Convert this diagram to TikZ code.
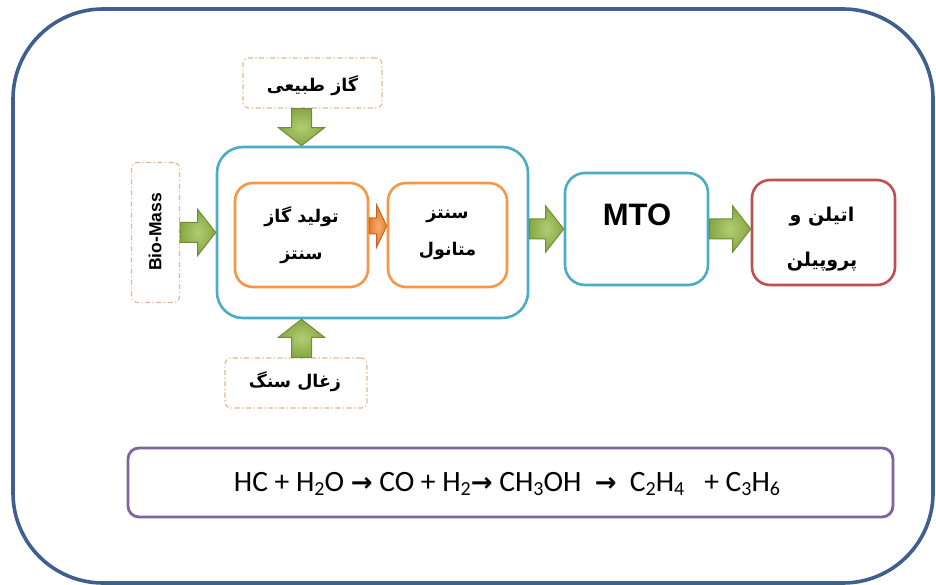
\documentclass[tikz,border=0pt]{standalone}
\usepackage{fontspec}
\usetikzlibrary{calc}
\TeXXeTstate=1
\newfontfamily\fafont[Script=Arabic]{DejaVu Sans}
\newfontfamily\sansb{Liberation Sans}
\newfontfamily\eqfont{Carlito}
\newfontfamily\symfont{DejaVu Sans}
\definecolor{framecol}{HTML}{3F5F91}
\definecolor{cyanc}{HTML}{4BACC6}
\definecolor{orangec}{HTML}{F79646}
\definecolor{redc}{HTML}{C0504D}
\definecolor{purplec}{HTML}{8064A2}
\definecolor{dashcol}{HTML}{E3B48F}
\definecolor{gin}{HTML}{B2CD72}
\definecolor{gout}{HTML}{86A744}
\definecolor{gline}{HTML}{6F8F33}
\definecolor{oin}{HTML}{F4AC70}
\definecolor{oout}{HTML}{E47E2E}
\definecolor{oline}{HTML}{C8661E}
% subscripts and reaction arrows of the equation line
\newcommand{\sbs}[1]{\raisebox{-0.3ex}{\fontsize{20}{20}\selectfont #1}}
\newcommand{\rarr}{{\symfont\bfseries\fontsize{26}{27}\selectfont →}}
\newcommand{\fa}[1]{\beginR #1\endR}
\tikzset{
  blockarrow/.style n args={3}{to path={
    ($(\tikztostart)!#1!90:(\tikztotarget)$)
    -- ($(\tikztotarget)!#3!(\tikztostart)!#1!-90:(\tikztostart)$)
    -- ($(\tikztotarget)!#3!(\tikztostart)!#2!-90:(\tikztostart)$)
    -- (\tikztotarget)
    -- ($(\tikztotarget)!#3!(\tikztostart)!#2!90:(\tikztostart)$)
    -- ($(\tikztotarget)!#3!(\tikztostart)!#1!90:(\tikztostart)$)
    -- ($(\tikztostart)!#1!-90:(\tikztotarget)$)
    -- cycle}},
  garrow/.style={draw=gline, line width=1pt, inner color=gin, outer color=gout,
    blockarrow={10pt}{23pt}{18pt}},
  oarrow/.style={draw=oline, line width=1pt, inner color=oin, outer color=oout,
    blockarrow={8pt}{21pt}{10pt}},
  frame/.style={draw=framecol, line width=3.6pt, rounded corners=90pt, inner sep=0pt},
  bluebox/.style={draw=cyanc, line width=2.6pt, rounded corners=26pt, inner sep=0pt},
  mtobox/.style={draw=cyanc, line width=2.6pt, rounded corners=20pt, inner sep=0pt},
  orbox/.style={draw=orangec, line width=2.6pt, rounded corners=18pt, inner sep=0pt,
    font=\fafont\bfseries\fontsize{17.5}{37}\selectfont, align=center},
  redbox/.style={draw=redc, line width=2.6pt, rounded corners=18pt, inner sep=0pt},
  eqbox/.style={draw=purplec, line width=2.8pt, rounded corners=11pt, inner sep=0pt},
  dashbox/.style={draw=dashcol, line width=1.1pt, rounded corners=6pt, inner sep=0pt,
    dash pattern=on 5pt off 2.5pt on 1.2pt off 2.5pt},
  falabel/.style={font=\fafont\bfseries\fontsize{17.5}{20}\selectfont, inner sep=0pt},
}
\begin{document}
\begin{tikzpicture}[x=1pt,y=-1pt]
\useasboundingbox (0,0) rectangle (936,585);
% rounded outer frame
\node[frame, minimum width=920pt, minimum height=574pt] (outer) at (473,296) {};

% feed boxes
\node[dashbox, minimum width=139pt, minimum height=50pt] (gas) at (312.5,83) {};
\node[falabel] (gastxt) at (312.5,86) {\fa{گاز طبیعی}};
\node[dashbox, minimum width=142pt, minimum height=50pt] (coal) at (296,383) {};
\node[falabel] (coaltxt) at (295,382) {\fa{زغال سنگ}};
\node[dashbox, minimum width=48pt, minimum height=140pt] (bio) at (155.5,232.5) {};
\node[rotate=90, font=\sansb\bfseries\fontsize{17.5}{20}\selectfont, inner sep=0pt]
  (biotxt) at (155,232) {Bio-Mass};

% methanol unit with its two steps
\node[bluebox, minimum width=311pt, minimum height=171pt] (unit) at (372.5,232.5) {};
\node[orbox, minimum width=133pt, minimum height=104pt] (syngas) at (301.5,235)
  {\fa{تولید گاز}\\\fa{سنتز}};
\node[orbox, minimum width=119pt, minimum height=104pt] (meoh) at (447.5,235)
  {\fa{سنتز}\\\fa{متانول}};

% MTO and products
\node[mtobox, minimum width=143pt, minimum height=112pt] (mto) at (636.5,229) {};
\node[font=\sansb\bfseries\fontsize{31}{34}\selectfont, inner sep=0pt] (mtotxt)
  at (637,215) {MTO};
\node[redbox, minimum width=143pt, minimum height=105pt] (olef) at (823.5,232.5) {};
\node[align=center, font=\fafont\bfseries\fontsize{19}{45}\selectfont, inner sep=0pt]
  (oleftxt) at (822,239) {\fa{اتیلن و}\\\fa{پروپیلن}};

% block arrows
\draw[garrow] (gas.south -| syngas.north) to (unit.north -| syngas.north);
\draw[garrow] (coal.north -| syngas.south) to (unit.south -| syngas.south);
\draw[garrow] (bio.east) to (unit.west);
\draw[oarrow, transform canvas={yshift=9pt}] (syngas.east) to (meoh.west);
\draw[garrow] (unit.east |- mto.west) to (mto.west);
\draw[garrow] (mto.east) to (olef.west |- mto.east);

% overall reaction
\node[eqbox, minimum width=765pt, minimum height=69pt] (eq) at (510.5,482.5) {};
\node[font=\eqfont\fontsize{29.5}{31}\selectfont, inner sep=0pt] (eqtxt) at (507,484)
  {HC + H\sbs{2}O \rarr{} CO + H\sbs{2}\rarr{} CH\sbs{3}OH \ \rarr{} \ C\sbs{2}H\sbs{4} \ \ + C\sbs{3}H\sbs{6}};
\end{tikzpicture}
\end{document}
